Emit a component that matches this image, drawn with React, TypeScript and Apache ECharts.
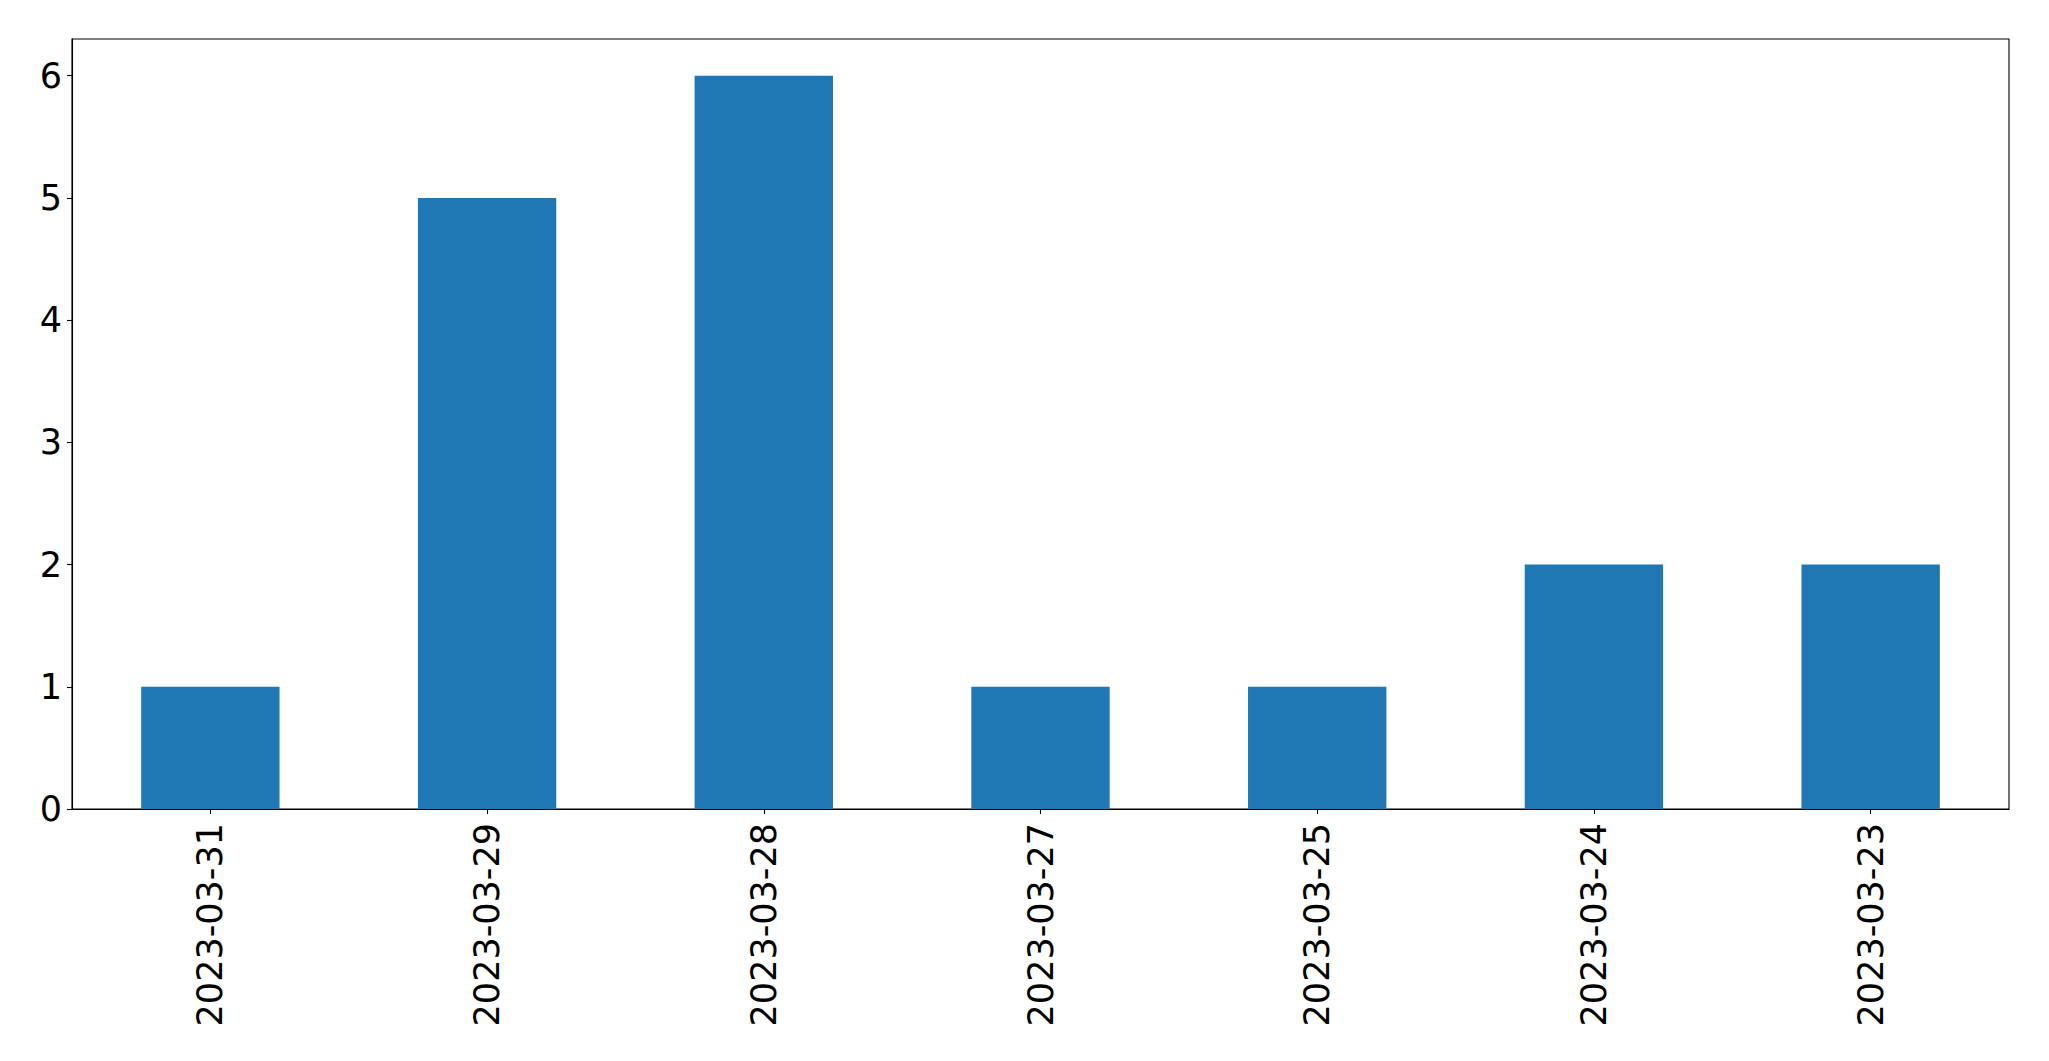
import React, { useEffect, useRef } from "react";
import * as echarts from "echarts";

const categories = ["2023-03-31", "2023-03-29", "2023-03-28", "2023-03-27", "2023-03-25", "2023-03-24", "2023-03-23"];
const values = [1, 5, 6, 1, 1, 2, 2];
const yTicks = [0, 1, 2, 3, 4, 5, 6];

export default function App() {
  const ref = useRef<HTMLDivElement>(null);
  useEffect(() => {
    document.body.style.margin = "0";
    const chart = echarts.init(ref.current!, null, { renderer: "svg" });
    const font = "DejaVu Sans";
    chart.setOption({
      animation: false,
      backgroundColor: "#ffffff",
      grid: {
        left: 72,
        right: 40,
        top: 39,
        bottom: 252,
        show: true,
        borderColor: "#000000",
        borderWidth: 1.1,
        backgroundColor: "transparent",
      },
      xAxis: {
        type: "category",
        data: categories,
        boundaryGap: true,
        axisLine: { show: true, lineStyle: { color: "#000000", width: 1.1 } },
        axisTick: { show: true, alignWithLabel: true, length: 5, lineStyle: { color: "#000000", width: 1.1 } },
        axisLabel: {
          rotate: 90,
          margin: 14,
          color: "#000000",
          fontFamily: font,
          fontSize: 35,
          interval: 0,
        },
        splitLine: { show: false },
      },
      yAxis: {
        type: "value",
        min: 0,
        max: 6.3,
        interval: 1,
        axisLine: { show: true, lineStyle: { color: "#000000", width: 1.1 } },
        axisTick: { show: true, length: 5, customValues: yTicks, lineStyle: { color: "#000000", width: 1.1 } },
        axisLabel: {
          customValues: yTicks,
          margin: 10,
          color: "#000000",
          fontFamily: font,
          fontSize: 35,
        },
        splitLine: { show: false },
      },
      series: [
        {
          type: "bar",
          data: values,
          barWidth: "50%",
          itemStyle: { color: "#1f77b4" },
        },
      ],
    });
    return () => chart.dispose();
  }, []);
  return <div ref={ref} style={{ position: "absolute", left: 0, top: 0, width: 2049, height: 1061 }} />;
}
